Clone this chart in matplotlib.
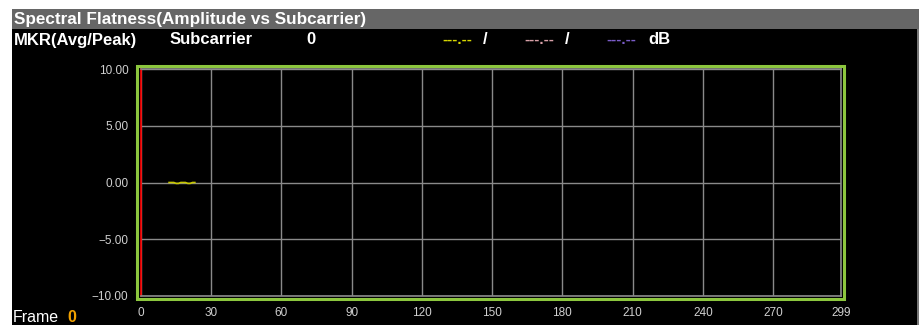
import matplotlib
matplotlib.use("Agg")
import matplotlib.pyplot as plt
from matplotlib.patches import Rectangle

# ---- data ----
subcarrier = [12, 13, 14, 15, 16, 17, 18, 19, 20, 21, 22, 23]
flatness_db = [0.0, 0.0, 0.0, -0.08, -0.08, 0.0, 0.0, 0.0, -0.08, -0.08, 0.0, 0.0]
x_ticks = [0, 30, 60, 90, 120, 150, 180, 210, 240, 270, 299]
y_ticks = [10, 5, 0, -5, -10]
y_tick_labels = ["10.00", "5.00", "0.00", "\u22125.00", "\u221210.00"]
title = "Spectral Flatness(Amplitude vs Subcarrier)"
marker_label = "MKR(Avg/Peak)"
marker_field = "Subcarrier"
marker_value = "0"
readouts = [("---.--", "/", "#d6d600"), ("---.--", "/", "#d8a0a8"), ("---.--", "dB", "#7a5cc8")]
frame_value = "0"

W, H = 919, 325
fig = plt.figure(figsize=(W / 100, H / 100), dpi=100, facecolor="white")
plt.rcParams["font.family"] = ["Liberation Sans", "DejaVu Sans"]
narrow = ["Liberation Sans Narrow", "Liberation Sans", "DejaVu Sans"]

def px(x, y, w, h):
    return (x / W, 1 - (y + h) / H, w / W, h / H)

def add_rect(x, y, w, h, z, **kw):
    r = Rectangle(px(x, y, w, h)[:2], w / W, h / H, transform=fig.transFigure,
                  zorder=z, **kw)
    fig.patches.append(r)

# backgrounds
add_rect(12, 29, W - 12, H - 29, -3, facecolor="black", edgecolor="none")
add_rect(12, 9, W - 12, 20, -3, facecolor="#666666", edgecolor="none")
add_rect(917, 29, 2, H - 29, -2, facecolor="#777777", edgecolor="none")
# green frame
add_rect(136.5, 65.5, 707, 233, 10, facecolor="none", edgecolor="#8cc63e", linewidth=2.2)

# header text
fs = 12.3
fig.text(14 / W, 1 - 19.5 / H, title, color="white", fontsize=fs,
         fontweight="bold", va="center", ha="left")
fig.text(14 / W, 1 - 40 / H, marker_label, color="white", fontsize=12,
         fontweight="bold", va="center", ha="left")
fig.text(170 / W, 1 - 40 / H, marker_field, color="white", fontsize=12,
         fontweight="bold", va="center", ha="left")
fig.text(306 / W, 1 - 40 / H, marker_value, color="white", fontsize=12,
         fontweight="bold", va="center", ha="left")
rx = [(442, 483), (524, 565), (606, 648)]
for (dash, unit, col), (xd, xu) in zip(readouts, rx):
    fig.text(xd / W, 1 - 40 / H, dash, color=col, fontsize=11,
             fontweight="bold", va="center", ha="left")
    fig.text(xu / W, 1 - 40 / H, unit, color="white", fontsize=12,
             fontweight="bold", va="center", ha="left")

fig.text(13 / W, 1 - 317 / H, "Frame", color="white", fontsize=11.5,
         va="center", ha="left")
fig.text(67 / W, 1 - 317 / H, frame_value, color="#f0a000", fontsize=11.5,
         fontweight="bold", va="center", ha="left")

# axes
ax = fig.add_axes(px(141, 69, 700, 227))
ax.set_zorder(5)
ax.set_facecolor("black")
ax.set_xlim(0, 299)
ax.set_ylim(-10, 10)
ax.set_xticks(x_ticks)
ax.set_xticklabels([str(t) for t in x_ticks])
ax.set_yticks(y_ticks)
ax.set_yticklabels(y_tick_labels)
ax.tick_params(colors="#d0d0d0", labelsize=8.5, length=0)
ax.tick_params(axis="y", pad=9)
ax.tick_params(axis="x", pad=8)
for t in ax.get_xticklabels() + ax.get_yticklabels():
    t.set_family(narrow)
ax.grid(True, color="#8a8a8a", linewidth=1)
for side in ["top", "bottom", "right"]:
    ax.spines[side].set_color("#8a8a8a")
    ax.spines[side].set_linewidth(1.2)
ax.spines["left"].set_color("#ff0000")
ax.spines["left"].set_linewidth(1.2)
ax.plot(subcarrier, flatness_db, color="#c8c800", linewidth=1.2, zorder=3)

fig.savefig("out.png", dpi=100, facecolor="white")
